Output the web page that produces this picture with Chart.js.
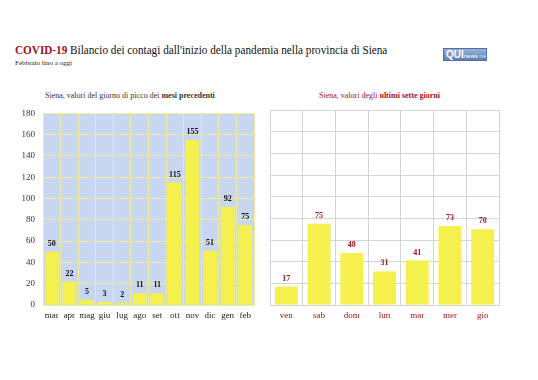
<!DOCTYPE html>
<html>
<head>
<meta charset="utf-8">
<script src="https://cdn.jsdelivr.net/npm/chart.js@4"></script>
<style>
  body { margin: 0; background: #fff; font-family: "Liberation Serif", serif; }
  #page { position: relative; width: 538px; height: 380px; overflow: hidden; }
  .abs { position: absolute; white-space: nowrap; }
  #title { left: 15px; top: 42px; font-size: 13.5px; color: #111; transform: scaleX(0.83); transform-origin: 0 0; }
  #title b { color: #a3121c; }
  #sub { left: 15px; top: 59px; font-size: 7px; color: #222; }
  #logo { left: 443px; top: 48px; width: 44px; height: 13px; background: linear-gradient(#9ab2dc, #5f80b8);
          border: 1px solid #4e6fa5; box-sizing: border-box; font-family: "Liberation Sans", sans-serif;
          color: #fff; font-size: 10px; line-height: 11px; padding-left: 2px; }
  #logo span { font-size: 6px; }
  #t1 { left: 45px; top: 91px; font-size: 8px; color: #333; }
  #t2 { left: 319px; top: 91px; font-size: 8px; color: #a3121c; }
  canvas { position: absolute; }
</style>
</head>
<body>
<div id="page">
  <div id="title" class="abs"><b>COVID-19</b> Bilancio dei contagi dall'inizio della pandemia nella provincia di Siena</div>
  <div id="sub" class="abs">Febbraio fino a oggi</div>
  <div id="logo" class="abs"><b>QUI</b><span>news</span><span style="color:#c8d6ee">.net</span></div>
  <div id="t1" class="abs">Siena, valori del giorno di picco dei <b>mesi precedenti</b></div>
  <div id="t2" class="abs">Siena, valori degli <b>ultimi sette giorni</b></div>
  <canvas id="months" style="left:0px;top:100px"></canvas>
  <canvas id="days" style="left:265px;top:100px"></canvas>
</div>
<script>
const monthLabels = ['mar', 'apr', 'mag', 'giu', 'lug', 'ago', 'set', 'ott', 'nov', 'dic', 'gen', 'feb'];
const monthPeaks = [50, 22, 5, 3, 2, 11, 11, 115, 155, 51, 92, 75];

const dayLabels = ['ven', 'sab', 'dom', 'lun', 'mar', 'mer', 'gio'];
const dayValues = [17, 75, 48, 31, 41, 73, 70];

const yMax = 180;
const yStep = 20;

const serif = '"Liberation Serif", serif';

// etichette sopra le barre
const valueLabels = {
    id: 'valueLabels',
    afterDatasetsDraw(chart, args, opts) {
        const ctx = chart.ctx;
        ctx.save();
        ctx.font = 'bold 8px ' + serif;
        ctx.fillStyle = opts.color;
        ctx.textAlign = 'center';
        ctx.textBaseline = 'bottom';
        chart.getDatasetMeta(0).data.forEach((bar, i) => {
            ctx.fillText(chart.data.datasets[0].data[i], bar.x, bar.y - 4);
        });
        ctx.restore();
    }
};

const plotBg = {
    id: 'plotBg',
    beforeDraw(chart, args, opts) {
        if (!opts.color) return;
        const a = chart.chartArea;
        chart.ctx.save();
        chart.ctx.fillStyle = opts.color;
        chart.ctx.fillRect(a.left, a.top, a.right - a.left, a.bottom - a.top);
        chart.ctx.restore();
    }
};

function makeChart(id, w, h, labels, values, cfg) {
    const canvas = document.getElementById(id);
    canvas.width = w;
    canvas.height = h;
    canvas.style.width = w + 'px';
    canvas.style.height = h + 'px';
    return new Chart(canvas, {
        type: 'bar',
        data: {
            labels: labels,
            datasets: [{
                data: values,
                backgroundColor: '#f4f04e',
                barPercentage: cfg.barPct,
                categoryPercentage: 1
            }]
        },
        options: {
            responsive: false,
            animation: false,
            layout: { padding: cfg.padding },
            plugins: {
                legend: { display: false },
                tooltip: { enabled: false },
                valueLabels: { color: cfg.labelColor },
                plotBg: { color: cfg.bg }
            },
            scales: {
                x: {
                    grid: { color: cfg.grid, offset: true, drawTicks: false },
                    border: { color: cfg.grid },
                    ticks: {
                        color: cfg.tickColor, font: { family: serif, size: 9 }, padding: 5,
                        autoSkip: false, maxRotation: 0, minRotation: 0
                    },
                    afterFit: s => { s.height = 20; }
                },
                y: {
                    min: 0, max: yMax,
                    grid: { color: cfg.grid, drawTicks: false },
                    border: { color: cfg.grid },
                    ticks: { display: cfg.yTicks, stepSize: yStep, color: '#333', font: { family: serif, size: 9 }, padding: 8 },
                    afterFit: s => { s.width = cfg.yWidth; }
                }
            }
        },
        plugins: [plotBg, valueLabels]
    });
}

makeChart('months', 260, 225, monthLabels, monthPeaks, {
    barPct: 0.78, padding: { top: 12, right: 6 }, labelColor: '#111', bg: '#c9d6f2',
    grid: '#eeee9a', tickColor: '#222', yTicks: true, yWidth: 43
});

makeChart('days', 240, 225, dayLabels, dayValues, {
    barPct: 0.7, padding: { top: 10, right: 6 }, labelColor: '#a3121c', bg: null,
    grid: '#d4d4d4', tickColor: '#a3121c', yTicks: false, yWidth: 5
});
</script>
</body>
</html>
